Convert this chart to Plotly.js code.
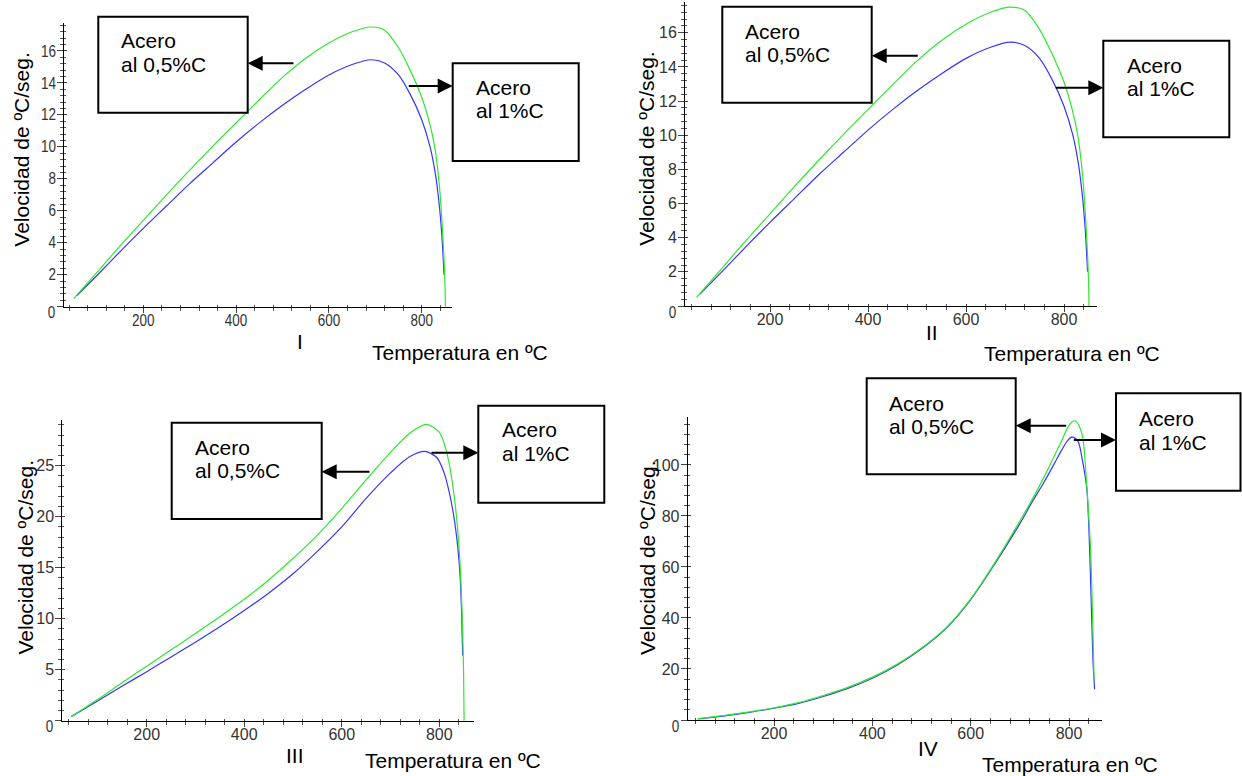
<!DOCTYPE html>
<html>
<head>
<meta charset="utf-8">
<script src="https://cdn.plot.ly/plotly-3.0.1.min.js"></script>
<style>html,body{margin:0;padding:0;background:#fff;}#chart{width:1242px;height:776px;}</style>
</head>
<body>
<div id="chart"></div>
<script>
// ---------- data ----------
// Panels I and II: same curves
const tempA_05 = [50, 100, 150, 200, 250, 300, 350, 400, 450, 500, 550, 600, 650, 690, 720, 750, 775, 800, 815, 828, 838, 844, 848, 850, 851];
const velA_05  = [0.5, 2.15, 3.8, 5.4, 7.0, 8.55, 10.05, 11.5, 12.95, 14.35, 15.55, 16.5, 17.2, 17.5, 17.3, 16.2, 14.8, 13.1, 11.7, 10.0, 7.6, 5.2, 3.0, 1.5, 0];
const tempA_1  = [57, 100, 150, 200, 250, 300, 350, 400, 450, 500, 550, 600, 650, 690, 720, 750, 775, 800, 818, 830, 838, 843, 846, 848];
const velA_1   = [0.7, 1.95, 3.45, 4.9, 6.3, 7.7, 9.0, 10.3, 11.5, 12.6, 13.6, 14.5, 15.15, 15.45, 15.25, 14.5, 13.3, 11.7, 10.0, 8.2, 6.3, 4.6, 3.2, 2.0];
// Panel III
const tempIII_05 = [45, 100, 150, 200, 250, 300, 350, 400, 450, 500, 550, 600, 650, 700, 740, 774, 800, 812, 822, 832, 840, 845, 848, 850, 851];
const velIII_05  = [0.4, 2.1, 3.75, 5.35, 6.95, 8.55, 10.2, 11.9, 13.8, 15.9, 18.2, 20.8, 23.6, 26.3, 28.2, 29.05, 28.3, 26.9, 24.8, 21.5, 17.5, 13.0, 9.0, 4.5, 0];
const tempIII_1  = [45, 100, 150, 200, 250, 300, 350, 400, 450, 500, 550, 600, 650, 700, 740, 771, 795, 810, 820, 830, 838, 843, 846, 848];
const velIII_1   = [0.4, 1.95, 3.4, 4.8, 6.25, 7.7, 9.2, 10.8, 12.5, 14.4, 16.6, 19.0, 21.8, 24.3, 25.9, 26.4, 25.8, 24.3, 22.5, 20.0, 17.0, 14.0, 10.5, 6.4];
// Panel IV
const tempIV_05 = [45, 100, 150, 200, 250, 300, 350, 400, 450, 500, 550, 600, 650, 700, 725, 750, 770, 785, 797, 806, 812, 820, 828, 836, 840, 844, 848, 851];
const velIV_05  = [0.5, 1.8, 3.2, 4.8, 6.8, 9.6, 12.8, 16.8, 21.8, 28.2, 36.2, 47.5, 62, 78, 86.5, 95.5, 103.5, 109.5, 114.5, 116.8, 117.3, 115.5, 110.5, 92, 80, 66, 40, 15];
const tempIV_1  = [45, 100, 150, 200, 250, 300, 350, 400, 450, 500, 550, 600, 650, 700, 725, 750, 770, 785, 797, 805, 812, 819, 827, 836, 842, 846, 849, 852];
const velIV_1   = [0.4, 1.6, 3.0, 4.6, 6.5, 9.2, 12.4, 16.4, 21.5, 27.9, 35.9, 47.2, 61.5, 77, 85.5, 93.5, 100.5, 105.8, 109.5, 110.9, 110.5, 109, 102, 91, 66, 40, 22, 12];

const panelNames = ['I', 'II', 'III', 'IV'];
const yTitle = 'Velocidad de ºC/seg.';
const xTitle = 'Temperatura en ºC';
const label05 = ['Acero', 'al 0,5%C'];
const label1 = ['Acero', 'al 1%C'];

// ---------- layout geometry (pixels) ----------
const W = 1242, H = 776;
const PX = x => x / W, PY = y => 1 - y / H;
const panels = [
  {xpx:[64.3,451.7], ypx:[306.7,23.3], xr:[29.7,864.6], yr:[0,17.73], ydt:2, ymin:0.4,
   s05:tempA_05, v05:velA_05, s1:tempA_1, v1:velA_1,
   ylab:[21.7,150], rom:[300,341], xlab:[370,353],
   boxL:[98.3,16.7,247.7,112.7], txtL:[119,40,64.3], arrL:[295,247.7,63.3],
   boxR:[452.7,63.3,578.7,161], txtR:[474.4,87.6,111], arrR:[407.3,452.7,86]},
  {xpx:[685,1096.7], ypx:[306,2], xr:[26.5,866.7], yr:[0,17.8], ydt:2, ymin:0.4,
   s05:tempA_05, v05:velA_05, s1:tempA_1, v1:velA_1,
   ylab:[645.8,149], rom:[932.3,332.5], xlab:[981.7,353.3],
   boxL:[722.3,6.7,871.7,102.7], txtL:[742.7,31.7,55], arrL:[919.3,871.7,55.7],
   boxR:[1103.3,40.7,1229.3,137.3], txtR:[1125,65,88.3], arrR:[1054.3,1103.3,87.7]},
  {xpx:[62.3,474], ypx:[720.7,420], xr:[26.9,871.3], yr:[0,29.48], ydt:5, ymin:1,
   s05:tempIII_05, v05:velIII_05, s1:tempIII_1, v1:velIII_1,
   ylab:[25,557.5], rom:[295,755], xlab:[363.3,760],
   boxL:[171.7,422.7,321.7,519], txtL:[192.7,447.3,471], arrL:[371,321.7,471.7],
   boxR:[478.3,405.7,604.3,502.7], txtR:[500,429.3,453.7], arrR:[430,478.3,452.7]},
  {xpx:[687.7,1101.7], ypx:[720,416.7], xr:[24.4,866.4], yr:[0,118.9], ydt:20, ymin:4,
   s05:tempIV_05, v05:velIV_05, s1:tempIV_1, v1:velIV_1,
   ylab:[647,558], rom:[928.3,748.3], xlab:[980,764.3],
   boxL:[866.7,378.3,1015.7,474.3], txtL:[886.7,403.3,426.7], arrL:[1067.7,1015.7,425.7],
   boxR:[1116,393.3,1240.5,490.7], txtR:[1137.3,418.3,442.7], arrR:[1072.3,1116,440]}
];

const tickFont = {family:'"Liberation Sans", Arial, sans-serif', size:16, color:'#333'};
const textFont = {family:'"Liberation Sans", Arial, sans-serif', size:21, color:'#000'};
const GREEN = '#2ee82e', BLUE = '#3535ff';

const data = [];
const layout = {
  width:W, height:H, margin:{l:0,r:0,t:0,b:0}, paper_bgcolor:'#fff', plot_bgcolor:'rgba(0,0,0,0)',
  showlegend:false, shapes:[], annotations:[]
};

panels.forEach((p, i) => {
  const n = i + 1, m = i + 5;
  const xs = n === 1 ? '' : n, ms = m;
  const xdom = [PX(p.xpx[0]), PX(p.xpx[1])];
  const ydom = [PY(p.ypx[0]), PY(p.ypx[1])];
  layout['xaxis' + xs] = {
    domain:xdom, range:p.xr, anchor:'y' + xs, showline:true, linecolor:'#000', linewidth:1,
    ticks:'outside', ticklen:5, tickwidth:1, tickcolor:'#444', tickmode:'linear', tick0:0, dtick:200,
    showgrid:false, zeroline:false, tickfont:tickFont, fixedrange:true, ticklabelstandoff:-6,
    minor:{ticks:'outside', ticklen:3, tickcolor:'#555', tickmode:'linear', tick0:0, dtick:40, showgrid:false}
  };
  layout['yaxis' + xs] = {
    domain:ydom, range:p.yr, anchor:'x' + xs, showline:true, linecolor:'#000', linewidth:1,
    ticks:'outside', ticklen:6, tickwidth:1, tickcolor:'#444', tickmode:'linear', tick0:0, dtick:p.ydt,
    showgrid:false, zeroline:false, tickfont:tickFont, fixedrange:true, labelalias:{'0':' '}, ticklabelstandoff:-2,
    minor:{ticks:'outside', ticklen:3, tickcolor:'#555', tickmode:'linear', tick0:0, dtick:p.ymin, showgrid:false}
  };
  // overlay axes giving the inner half of crossing tick marks
  layout['xaxis' + ms] = {
    overlaying:'x' + xs, anchor:'y' + ms, range:p.xr, showline:false, showticklabels:false,
    ticks:'inside', ticklen:2, tickcolor:'#444', tickmode:'linear', tick0:0, dtick:200,
    showgrid:false, zeroline:false, fixedrange:true,
    minor:{ticks:'inside', ticklen:2, tickcolor:'#555', tickmode:'linear', tick0:0, dtick:40, showgrid:false}
  };
  layout['yaxis' + ms] = {
    overlaying:'y' + xs, anchor:'x' + ms, range:p.yr, showline:false, showticklabels:false,
    ticks:'inside', ticklen:3, tickcolor:'#444', tickmode:'linear', tick0:0, dtick:p.ydt,
    showgrid:false, zeroline:false, fixedrange:true,
    minor:{ticks:'inside', ticklen:2, tickcolor:'#555', tickmode:'linear', tick0:0, dtick:p.ymin, showgrid:false}
  };
  data.push({x:[], y:[], xaxis:'x' + ms, yaxis:'y' + ms, type:'scatter', mode:'lines', hoverinfo:'skip'});
  data.push({x:p.s1, y:p.v1, xaxis:'x' + xs, yaxis:'y' + xs, type:'scatter', mode:'lines',
             line:{color:BLUE, width:1.2, shape:'spline', smoothing:0.8}, name:'Acero al 1%C'});
  data.push({x:p.s05, y:p.v05, xaxis:'x' + xs, yaxis:'y' + xs, type:'scatter', mode:'lines',
             line:{color:GREEN, width:1.2, shape:'spline', smoothing:0.8}, name:'Acero al 0,5%C'});

  const A = layout.annotations, S = layout.shapes;
  // "0" tick label, set a bit lower as in the original
  A.push({xref:'paper', yref:'paper', x:PX(p.xpx[0] - 6), y:PY(p.ypx[0] + 6), xanchor:'right', yanchor:'middle',
          text:'0', showarrow:false, font:tickFont});
  A.push({xref:'paper', yref:'paper', x:PX(p.ylab[0]), y:PY(p.ylab[1]), xanchor:'center', yanchor:'middle',
          text:yTitle, textangle:-90, showarrow:false, font:textFont});
  A.push({xref:'paper', yref:'paper', x:PX(p.rom[0]), y:PY(p.rom[1]), xanchor:'center', yanchor:'middle',
          text:panelNames[i], showarrow:false, font:textFont});
  A.push({xref:'paper', yref:'paper', x:PX(p.xlab[0]), y:PY(p.xlab[1]), xanchor:'left', yanchor:'middle',
          text:xTitle, showarrow:false, font:textFont});
  [[p.boxL, p.txtL, p.arrL, label05], [p.boxR, p.txtR, p.arrR, label1]].forEach(([b, t, a, lab]) => {
    S.push({type:'rect', xref:'paper', yref:'paper', x0:PX(b[0]), x1:PX(b[2]), y0:PY(b[1]), y1:PY(b[3]),
            line:{color:'#000', width:2}, fillcolor:'rgba(255,255,255,0)'});
    A.push({xref:'paper', yref:'paper', x:PX(t[0]), y:PY(t[1]), xanchor:'left', yanchor:'middle',
            text:lab[0], showarrow:false, font:textFont});
    A.push({xref:'paper', yref:'paper', x:PX(t[0]), y:PY(t[2]), xanchor:'left', yanchor:'middle',
            text:lab[1], showarrow:false, font:textFont});
    A.push({xref:'paper', yref:'paper', x:PX(a[1]), y:PY(a[2]), ax:a[0] - a[1], ay:0, text:'',
            showarrow:true, arrowhead:2, arrowsize:1.5, arrowwidth:2, arrowcolor:'#000', standoff:0});
  });
});

// narrow the tick-label glyphs, like the condensed numerals of the original
function narrowTicks() {
  document.querySelectorAll('.xtick text, .ytick text, .annotation-text').forEach(t => {
    const s = t.textContent.trim();
    if (!/^\d+$/.test(s)) return;
    t.setAttribute('textLength', (s.length * 7.5).toFixed(1));
    t.setAttribute('lengthAdjust', 'spacingAndGlyphs');
  });
}
Plotly.newPlot('chart', data, layout, {staticPlot:true, displayModeBar:false}).then(narrowTicks);
</script>
</body>
</html>
